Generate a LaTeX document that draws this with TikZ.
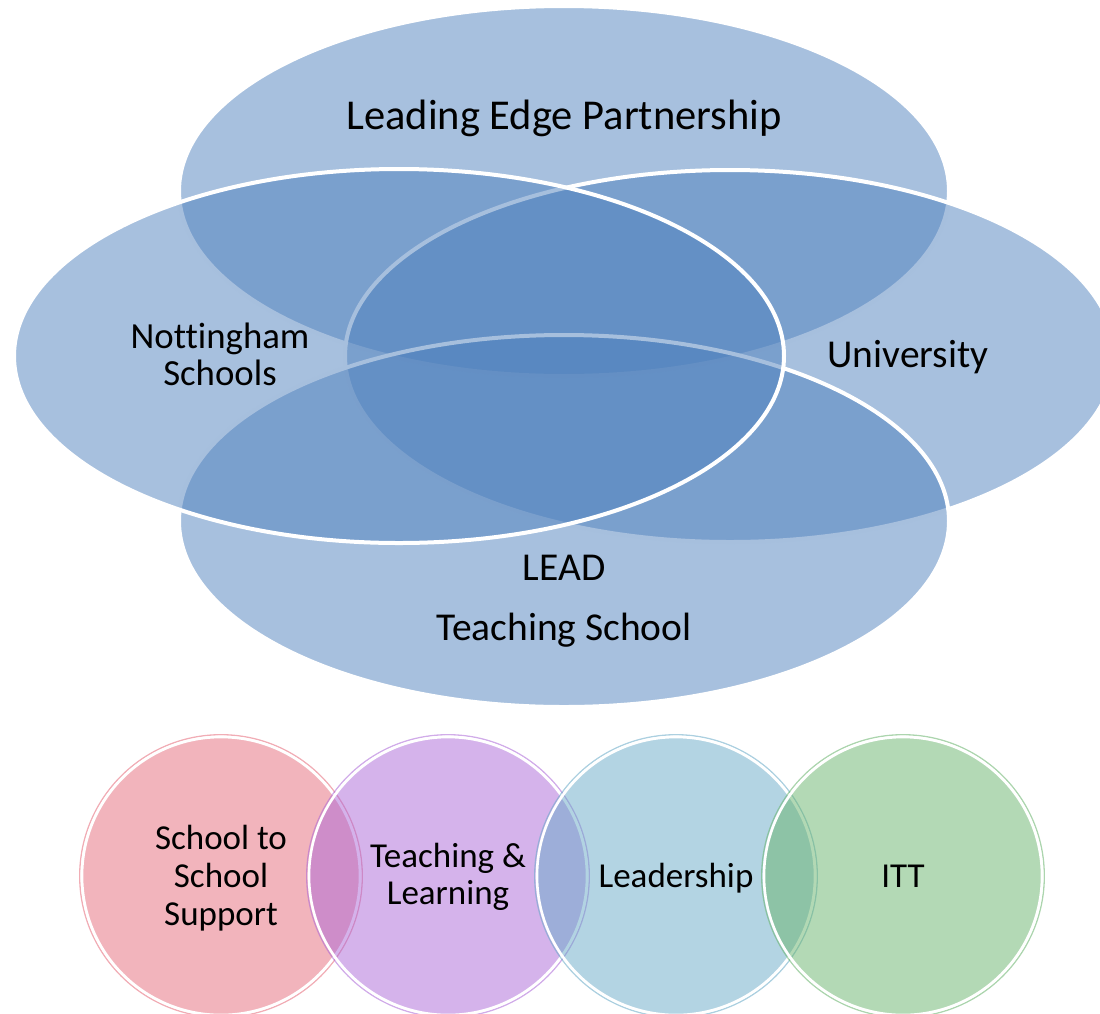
\documentclass[tikz,border=0pt]{standalone}
\usepackage{fontspec}
\setmainfont{Carlito}[Ligatures=CommonOff]
\definecolor{venn}{RGB}{79,129,189}
\definecolor{cpink}{RGB}{229,105,121}
\definecolor{cpurple}{RGB}{171,103,215}
\definecolor{cblue}{RGB}{103,169,199}
\definecolor{cgreen}{RGB}{103,179,107}
\tikzset{
  vennell/.style={fill=venn, fill opacity=0.5, draw=white, draw opacity=1, line width=4pt},
  biglbl/.style={inner sep=0pt, anchor=base, font=\fontsize{39.5}{41}\selectfont, text=black},
  smalllbl/.style={inner sep=0pt, anchor=base, font=\fontsize{35}{37}\selectfont, text=black},
  circfill/.style={fill=#1, fill opacity=0.5},
  circring/.style={draw=#1, draw opacity=0.55, line width=1.3pt},
  circwhite/.style={draw=white, line width=2.6pt}
}
\begin{document}
\begin{tikzpicture}[x=1pt,y=-1pt]
\useasboundingbox (0,0) rectangle (1100,1013);
% Venn ellipses
\path[vennell] (564,191) ellipse [x radius=385pt, y radius=185pt];
\path[vennell] (730,356) ellipse [x radius=385pt, y radius=186pt];
\path[vennell] (564,521) ellipse [x radius=385pt, y radius=186pt];
\path[vennell] (399,356) ellipse [x radius=385pt, y radius=187pt];
% labels
\node[biglbl, font=\fontsize{42.5}{44}\selectfont] (lep) at (564,129) {Leading Edge Partnership};
\node[biglbl, font=\fontsize{36.8}{39}\selectfont] (nott1) at (220,348) {Nottingham};
\node[biglbl, font=\fontsize{36.8}{39}\selectfont] (nott2) at (220,385) {Schools};
\node[biglbl] (uni) at (908,367) {University};
\node[biglbl] (lead1) at (564,580) {LEAD};
\node[biglbl] (lead2) at (564,640) {Teaching School};
% circles
\foreach \c/\x in {cpink/221, cpurple/448, cblue/676, cgreen/903}{
  \path[circfill=\c] (\x,876) circle [radius=139pt];
  \path[circring=\c] (\x,876) circle [radius=141.3pt];
  \path[circwhite] (\x,876) circle [radius=139pt];
}
\node[smalllbl] (s1) at (221,849) {School to};
\node[smalllbl] (s2) at (221,887) {School};
\node[smalllbl] (s3) at (221,925) {Support};
\node[smalllbl] (t1) at (448,867) {Teaching \&};
\node[smalllbl] (t2) at (448,904) {Learning};
\node[smalllbl] (ld) at (676,887) {Leadership};
\node[smalllbl] (itt) at (903,887) {ITT};
\end{tikzpicture}
\end{document}
